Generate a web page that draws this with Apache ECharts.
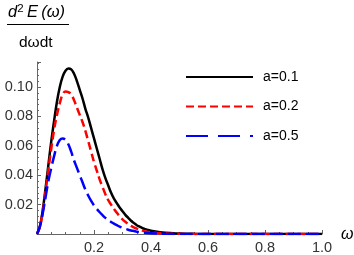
<!DOCTYPE html>
<html><head><meta charset="utf-8">
<script src="https://cdn.jsdelivr.net/npm/echarts@6/dist/echarts.min.js"></script>
<style>html,body{margin:0;padding:0;background:#fff}#c{width:354px;height:255px}</style>
</head><body><div id="c"></div>
<script>
const omega = [0,0.01,0.02,0.03,0.04,0.05,0.06,0.07,0.08,0.09,0.10,0.11,0.12,0.13,0.14,0.15,0.16,0.17,0.18,0.19,0.20,0.21,0.22,0.23,0.24,0.25,0.26,0.27,0.28,0.29,0.30,0.31,0.32,0.33,0.34,0.35,0.36,0.37,0.38,0.39,0.40,0.45,0.50,0.55,0.60,0.70,0.80,0.90,1.00];
const a01 = [0,0.005,0.016,0.031,0.047,0.063,0.077,0.090,0.100,0.107,0.111,0.1125,0.112,0.109,0.104,0.098,0.092,0.085,0.079,0.072,0.065,0.058,0.051,0.044,0.038,0.033,0.028,0.024,0.021,0.018,0.0155,0.013,0.011,0.009,0.0075,0.006,0.005,0.004,0.0033,0.0027,0.0022,0.0008,0.0003,0.0001,0,0,0,0,0];
const a02 = [0,0.005,0.015,0.029,0.044,0.058,0.071,0.081,0.089,0.095,0.097,0.0965,0.095,0.091,0.086,0.081,0.076,0.070,0.063,0.056,0.049,0.043,0.037,0.032,0.027,0.023,0.020,0.017,0.0145,0.012,0.010,0.0083,0.0068,0.0055,0.0045,0.0036,0.0029,0.0023,0.0018,0.0014,0.0011,0.0003,0.0001,0,0,0,0,0,0];
const a05 = [0,0.005,0.014,0.025,0.036,0.045,0.053,0.060,0.064,0.065,0.064,0.061,0.056,0.050,0.045,0.040,0.035,0.030,0.026,0.0225,0.0195,0.017,0.0148,0.0128,0.011,0.0095,0.0082,0.007,0.006,0.005,0.0042,0.0035,0.0029,0.0024,0.002,0.0016,0.0013,0.001,0.0008,0.0006,0.0005,0.0001,0,0,0,0,0,0,0];
const seriesNames = ['a=0.1','a=0.2','a=0.5'];
const xTicks = [0.2,0.4,0.6,0.8,1.0];
const yTicks = [0.02,0.04,0.06,0.08,0.10];

const pair = arr => omega.map((w,i)=>[w,arr[i]]);
const chart = echarts.init(document.getElementById('c'), null, {renderer:'canvas'});
const fnt = 'Liberation Sans, Arial, sans-serif';
chart.setOption({
  animation:false,
  grid:{left:37,right:32,top:62,bottom:20.5,containLabel:false},
  xAxis:{type:'value',min:0,max:1,interval:0.2,
    axisLine:{lineStyle:{color:'#666',width:1}},
    axisTick:{inside:true,length:4,lineStyle:{color:'#666'}},
    minorTick:{show:true,splitNumber:4,length:2,lineStyle:{color:'#666'}},
    splitLine:{show:false},
    axisLabel:{margin:6,color:'#333',fontSize:14.5,fontFamily:fnt,
      formatter:v=>xTicks.some(t=>Math.abs(t-v)<1e-9)?v.toFixed(1):''}},
  yAxis:{type:'value',min:0,max:0.117,interval:0.02,
    axisLine:{lineStyle:{color:'#666',width:1}},
    axisTick:{inside:true,length:4,lineStyle:{color:'#666'}},
    minorTick:{show:true,splitNumber:5,length:2,lineStyle:{color:'#666'}},
    splitLine:{show:false},
    axisLabel:{margin:4,color:'#333',fontSize:14.5,fontFamily:fnt,showMaxLabel:false,
      formatter:v=>yTicks.some(t=>Math.abs(t-v)<1e-9)?v.toFixed(2):''}},
  legend:{orient:'vertical',left:180,top:65,itemWidth:67,itemHeight:14,itemGap:15.5,
    itemStyle:{opacity:0},
    textStyle:{fontSize:14,fontFamily:fnt,color:'#000',padding:[0,0,0,5]},
    data:[{name:seriesNames[0]},{name:seriesNames[1]},{name:seriesNames[2],lineStyle:{type:[22,10]}}]},
  series:[
    {name:seriesNames[0],type:'line',data:pair(a01),symbol:'none',smooth:0.4,
     lineStyle:{color:'#000',width:2.5},itemStyle:{color:'#000'}},
    {name:seriesNames[1],type:'line',data:pair(a02),symbol:'none',smooth:0.4,
     lineStyle:{color:'#ff0000',width:2.5,type:[8,4]},itemStyle:{color:'#ff0000'}},
    {name:seriesNames[2],type:'line',data:pair(a05),symbol:'none',smooth:0.4,
     lineStyle:{color:'#0000ff',width:2.5,type:[13,5]},itemStyle:{color:'#0000ff'}}
  ],
  graphic:[
    {type:'text',left:8,top:3,style:{
      text:'{i|d}{s|2} {i|E} {i|(ω)}',
      rich:{i:{fontStyle:'italic',fontSize:16.5,fontFamily:fnt,fill:'#000'},
            s:{fontSize:11.5,fontFamily:fnt,fill:'#000',verticalAlign:'top',padding:[0,0,7,0]}}}},
    {type:'line',shape:{x1:7,y1:24.5,x2:69,y2:24.5},style:{stroke:'#000',lineWidth:1}},
    {type:'text',left:19,top:35,style:{text:'dωdt',fontSize:15.5,fontFamily:fnt,fill:'#000'}},
    {type:'text',left:341,top:227,style:{text:'ω',fontSize:16,fontStyle:'italic',fontFamily:fnt,fill:'#000'}}
  ]
});
</script></body></html>
